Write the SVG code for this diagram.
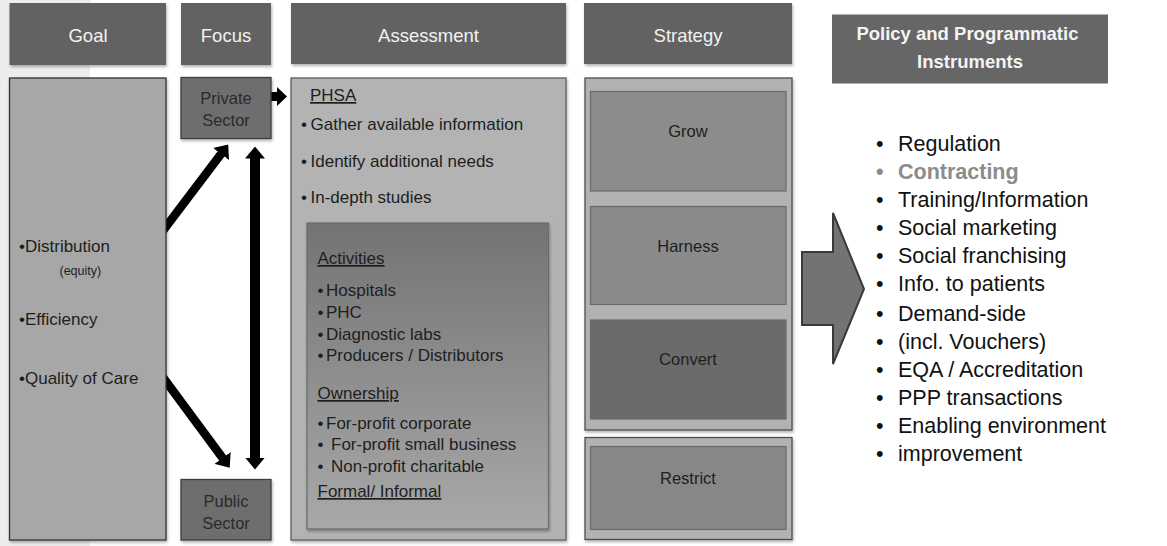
<svg xmlns="http://www.w3.org/2000/svg" width="1167" height="546" viewBox="0 0 1167 546">
  <defs>
    <style>
      .hdr { fill: #626262; filter: url(#sh); }
      .hdrtxt { font-family: "Liberation Sans", Arial, sans-serif; font-size: 18.5px; fill: #f2f2f2; text-anchor: middle; }
      .body { font-family: "Liberation Sans", Arial, sans-serif; font-size: 17px; fill: #1e1e1e; }
      .small { font-size: 12.5px; }
      .sector { fill: #6e6e6e; stroke: #3e3e3e; stroke-width: 1.3; filter: url(#sh); }
      .sectxt { font-family: "Liberation Sans", Arial, sans-serif; font-size: 16.5px; fill: #2a2a2a; text-anchor: middle; }
      .strat { font-family: "Liberation Sans", Arial, sans-serif; font-size: 16.5px; fill: #1e1e1e; text-anchor: middle; }
      .inner { stroke: #6a6a6a; stroke-width: 1.2; }
      .list { font-family: "Liberation Sans", Arial, sans-serif; font-size: 21.5px; fill: #111; }
      .muted { fill: #8c8c8c; font-weight: bold; }
      .u { text-decoration: underline; }
      .conn { stroke: #000; fill: none; }
    </style>
    <filter id="sh" x="-10%" y="-10%" width="125%" height="130%">
      <feDropShadow dx="1" dy="2" stdDeviation="1.5" flood-color="#000" flood-opacity="0.3"/>
    </filter>
    <linearGradient id="grad" x1="0" y1="0" x2="0" y2="1">
      <stop offset="0" stop-color="#737373"/>
      <stop offset="1" stop-color="#a9a9a9"/>
    </linearGradient>
    <marker id="ah" markerUnits="userSpaceOnUse" viewBox="0 -10 12 20" markerWidth="12" markerHeight="20" refX="0.5" refY="0" orient="auto-start-reverse">
      <path d="M0,-10 L12,0 L0,10 z" fill="#000"/>
    </marker>
  </defs>

  <rect x="0" y="0" width="1167" height="546" fill="#ffffff"/>
  <rect x="0" y="0" width="90" height="546" fill="#ededed"/>

  <g id="connectors">
    <line class="conn" x1="161.7" y1="232.4" x2="221.3" y2="153.6" stroke-width="8.5" marker-end="url(#ah)"/>
    <line class="conn" x1="161.7" y1="375.6" x2="222.9" y2="458.4" stroke-width="8.5" marker-end="url(#ah)"/>
    <line class="conn" x1="255" y1="158" x2="255" y2="458" stroke-width="10" marker-start="url(#ah)" marker-end="url(#ah)"/>
    <polygon points="270,92 277,92 277,87 287,96.5 277,106 277,101 270,101" fill="#000"/>
    <polygon id="big-arrow" points="802,252 833,252 833,213 864,289 833,364 833,325 802,325" fill="#737373" stroke="#3a3a3a" stroke-width="2" stroke-linejoin="miter"/>
  </g>

  <g id="goal-header">
    <rect class="hdr" x="9.5" y="3" width="156.5" height="62"/>
    <text class="hdrtxt" x="88" y="42">Goal</text>
  </g>
  <g id="focus-header">
    <rect class="hdr" x="181" y="3" width="90" height="62"/>
    <text class="hdrtxt" x="226" y="42">Focus</text>
  </g>
  <g id="assessment-header">
    <rect class="hdr" x="291" y="3" width="275" height="61"/>
    <text class="hdrtxt" x="428.5" y="42">Assessment</text>
  </g>
  <g id="strategy-header">
    <rect class="hdr" x="584" y="3" width="208" height="61"/>
    <text class="hdrtxt" x="688" y="42">Strategy</text>
  </g>
  <g id="policy-header">
    <rect x="832" y="14.5" width="276" height="69" fill="#666666"/>
    <text font-family="'Liberation Sans', Arial, sans-serif" font-size="18.5" font-weight="bold" fill="#f4f4f4" text-anchor="middle">
      <tspan x="970" y="40">Policy and Programmatic</tspan>
      <tspan x="970" y="68">Instruments</tspan>
    </text>
  </g>

  <g id="goal">
    <rect x="9.5" y="78" width="156.5" height="462" fill="#a7a7a7" stroke="#333" stroke-width="1.3" filter="url(#sh)"/>
    <text class="body" x="19" y="252">•Distribution</text>
    <text class="body small" x="59.5" y="275">(equity)</text>
    <text class="body" x="19" y="325">•Efficiency</text>
    <text class="body" x="19" y="384">•Quality of Care</text>
  </g>

  <g id="private-sector">
    <rect class="sector" x="181" y="77.5" width="90" height="61"/>
    <text class="sectxt"><tspan x="226" y="104">Private</tspan><tspan x="226" y="126">Sector</tspan></text>
  </g>
  <g id="public-sector">
    <rect class="sector" x="181" y="479.5" width="90" height="60.5"/>
    <text class="sectxt"><tspan x="226" y="506.5">Public</tspan><tspan x="226" y="528.5">Sector</tspan></text>
  </g>

  <g id="assessment">
    <rect x="291" y="78" width="275" height="462" fill="#b3b3b3" stroke="#5e5e5e" stroke-width="1.3" filter="url(#sh)"/>
    <text class="body u" x="310" y="101">PHSA</text>
    <text class="body"><tspan x="301" y="130">•</tspan><tspan x="310.5" y="130">Gather available information</tspan></text>
    <text class="body"><tspan x="301" y="167">•</tspan><tspan x="310.5" y="167">Identify additional needs</tspan></text>
    <text class="body"><tspan x="301" y="203">•</tspan><tspan x="310.5" y="203">In-depth studies</tspan></text>
  </g>

  <g id="activities">
    <rect class="inner" x="307" y="223" width="241.5" height="306" fill="url(#grad)" filter="url(#sh)"/>
    <text class="body u" x="317.5" y="264">Activities</text>
    <text class="body"><tspan x="317.5" y="295.5">•</tspan><tspan x="326" y="295.5">Hospitals</tspan></text>
    <text class="body"><tspan x="317.5" y="317.5">•</tspan><tspan x="326" y="317.5">PHC</tspan></text>
    <text class="body"><tspan x="317.5" y="339.5">•</tspan><tspan x="326" y="339.5">Diagnostic labs</tspan></text>
    <text class="body"><tspan x="317.5" y="361">•</tspan><tspan x="326" y="361">Producers / Distributors</tspan></text>
    <text class="body u" x="317.5" y="399">Ownership</text>
    <text class="body"><tspan x="317.5" y="428.5">•</tspan><tspan x="326" y="428.5">For-profit corporate</tspan></text>
    <text class="body"><tspan x="317.5" y="450">•</tspan><tspan x="331" y="450">For-profit small business</tspan></text>
    <text class="body"><tspan x="317.5" y="471.5">•</tspan><tspan x="331" y="471.5">Non-profit charitable</tspan></text>
    <text class="body u" x="317.5" y="497">Formal/ Informal</text>
  </g>

  <g id="strategy">
    <rect x="585" y="78" width="207" height="352" fill="#b2b2b2" stroke="#4e4e4e" stroke-width="1.3" filter="url(#sh)"/>
  </g>
  <g id="grow">
    <rect class="inner" x="590.5" y="91.5" width="195.5" height="99.5" fill="#8c8c8c"/>
    <text class="strat" x="688" y="137">Grow</text>
  </g>
  <g id="harness">
    <rect class="inner" x="590.5" y="206.5" width="195.5" height="98" fill="#8a8a8a"/>
    <text class="strat" x="688" y="252">Harness</text>
  </g>
  <g id="convert">
    <rect class="inner" x="590.5" y="320" width="195.5" height="99" fill="#6b6b6b"/>
    <text class="strat" x="688" y="365">Convert</text>
  </g>
  <g id="restrict">
    <rect x="585" y="437.5" width="207" height="102" fill="#b2b2b2" stroke="#4e4e4e" stroke-width="1.3" filter="url(#sh)"/>
    <rect class="inner" x="590.5" y="446.5" width="195.5" height="83" fill="#878787"/>
    <text class="strat" x="688" y="483.5">Restrict</text>
  </g>

  <g id="instruments">
    <text class="list"><tspan x="876" y="151">•</tspan><tspan x="898" y="151">Regulation</tspan></text>
    <text class="list muted"><tspan x="876" y="179">•</tspan><tspan x="898" y="179">Contracting</tspan></text>
    <text class="list"><tspan x="876" y="207">•</tspan><tspan x="898" y="207">Training/Information</tspan></text>
    <text class="list"><tspan x="876" y="235">•</tspan><tspan x="898" y="235">Social marketing</tspan></text>
    <text class="list"><tspan x="876" y="263">•</tspan><tspan x="898" y="263">Social franchising</tspan></text>
    <text class="list"><tspan x="876" y="291">•</tspan><tspan x="898" y="291">Info. to patients</tspan></text>
    <text class="list"><tspan x="876" y="320.5">•</tspan><tspan x="898" y="320.5">Demand-side</tspan></text>
    <text class="list"><tspan x="876" y="348.5">•</tspan><tspan x="898" y="348.5">(incl. Vouchers)</tspan></text>
    <text class="list"><tspan x="876" y="376.5">•</tspan><tspan x="898" y="376.5">EQA / Accreditation</tspan></text>
    <text class="list"><tspan x="876" y="405">•</tspan><tspan x="898" y="405">PPP transactions</tspan></text>
    <text class="list"><tspan x="876" y="433">•</tspan><tspan x="898" y="433">Enabling environment</tspan></text>
    <text class="list"><tspan x="876" y="461">•</tspan><tspan x="898" y="461">improvement</tspan></text>
  </g>
</svg>
